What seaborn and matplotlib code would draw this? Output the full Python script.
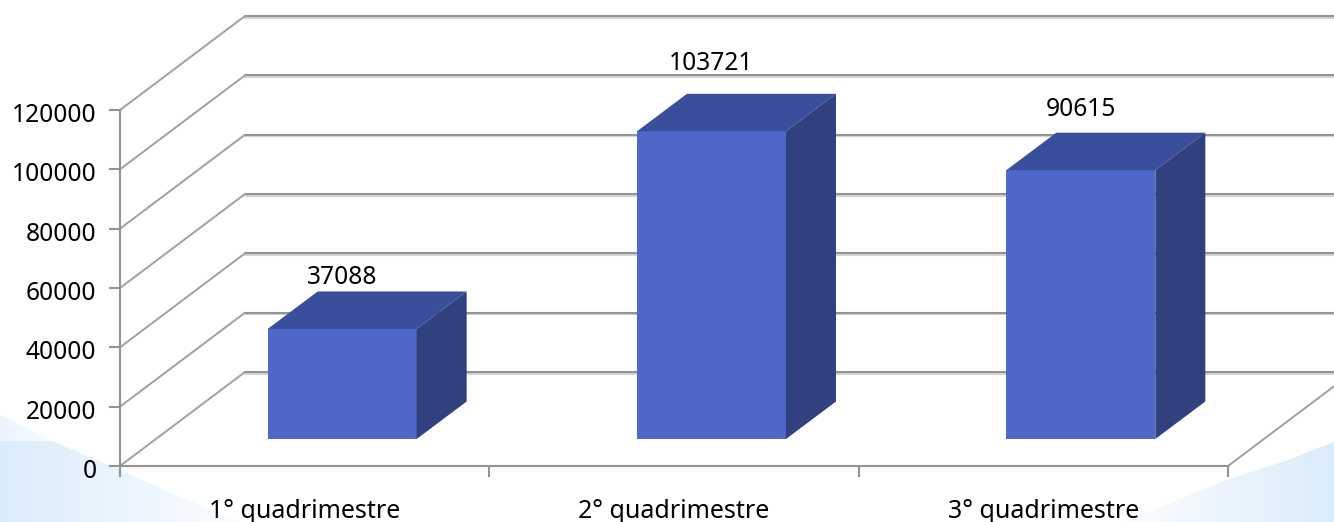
import numpy as np
import seaborn as sns
from matplotlib import pyplot as plt
from matplotlib import patheffects as pe
from matplotlib.colors import LinearSegmentedColormap
from matplotlib.patches import Polygon
from matplotlib.transforms import ScaledTranslation

categories = ["1° quadrimestre", "2° quadrimestre", "3° quadrimestre"]
values = [37088, 103721, 90615]
y_ticks = [0, 20000, 40000, 60000, 80000, 100000, 120000]

W, H = 1334, 522
FONT = 17.7
GRID = "#939393"
FRONT, TOP, SIDE = "#4f67c8", "#3a4f9b", "#31417f"

sns.set_theme(style="white")
plt.rcParams["font.family"] = ["Noto Sans", "DejaVu Sans"]

fig = plt.figure(figsize=(W / 100, H / 100), dpi=100, facecolor="white")


def px_axes(left, baseline):
    # axes placed by pixel position, y counted from the top of the picture
    return fig.add_axes([left / W, (H - baseline) / H, 1108 / W, 356 / H])


# background swooshes in the bottom corners
bg = fig.add_axes([0, 0, 1, 1], zorder=0)
bg.set_xlim(0, W)
bg.set_ylim(H, 0)
bg.axis("off")
fade = LinearSegmentedColormap.from_list("fade", ["#daecfb", "#fbfdff"])
ramp = np.linspace(0, 1, 256).reshape(1, -1)
shapes = [
    ([(0, 415), (25, 427), (52, 441), (0, 441)], (0, 60), 0.5),
    ([(0, 441), (52, 441), (120, 470), (180, 497), (240, 522), (0, 522)], (0, 240), 0),
    ([(1123, 522), (1227, 480), (1285, 461), (1334, 442), (1334, 522)], (1334, 1123), 0),
]
for pts, (x0, x1), lift in shapes:
    img = bg.imshow(ramp * (1 - lift) + lift, cmap=fade, vmin=0, vmax=1, aspect="auto",
                    extent=(x0, x1, H, 400), zorder=1)
    img.set_clip_path(Polygon(pts, transform=bg.transData))
bg.set_xlim(0, W)
bg.set_ylim(H, 0)

# front plane of the chart, carries the axes and the receding grid
ax = px_axes(120, 466)
ax.set_zorder(1)
ax.patch.set_alpha(0)
ax.set_xlim(-0.5, 2.5)
ax.set_ylim(0, 120000)
depth_x, depth_y = 125 / (1108 / 3), 94 / 356 * 120000
shadow = [pe.SimpleLineShadow(offset=(0, -1.3), shadow_color="#d4d4d4", alpha=1), pe.Normal()]
for tick in y_ticks:
    ax.plot([-0.5 + depth_x, 3.0], [tick + depth_y, tick + depth_y],
            color=GRID, lw=1.5, clip_on=False, path_effects=shadow)
    ax.plot([-0.5, -0.5 + depth_x], [tick, tick + depth_y], color="#a0a0a0", lw=1.4, clip_on=False)
ax.plot([2.5, 2.5 + depth_x], [0, depth_y], color="#a0a0a0", lw=1.4, clip_on=False)

ax.set_yticks(y_ticks)
ax.set_xticks([-0.5, 0.5, 1.5, 2.5])
ax.set_xticklabels([])
ax.set_xticks(range(3), categories, minor=True)
ax.tick_params(axis="both", which="major", length=8, width=1.5, color=GRID, direction="out",
               left=True, bottom=True, labelsize=FONT, labelcolor="black", pad=9)
ax.tick_params(axis="x", which="minor", length=0, labelsize=18, labelcolor="black", pad=24)
nudge = ScaledTranslation(0, -2.5 / 72 * 0.72, fig.dpi_scale_trans)
for label in ax.get_yticklabels():
    label.set_transform(label.get_transform() + nudge)
for side in ["top", "right"]:
    ax.spines[side].set_visible(False)
for side in ["left", "bottom"]:
    ax.spines[side].set_color(GRID)
    ax.spines[side].set_linewidth(1.5)

# bars stand 30% back into the depth of the floor
ax_bars = px_axes(157.5, 439)
ax_bars.set_zorder(2)
ax_bars.patch.set_alpha(0)
sns.barplot(x=categories, y=values, color=FRONT, saturation=1, width=149 / (1108 / 3),
            edgecolor=FRONT, linewidth=0, ax=ax_bars)
ax_bars.set_xlim(-0.5, 2.5)
ax_bars.set_ylim(0, 120000)
ax_bars.axis("off")

bar_x, bar_y = 50 / (1108 / 3), 37.5 / 356 * 120000
label_pads = [14, 30, 23]
for bar, val, pad in zip(ax_bars.patches, values, label_pads):
    x0, x1 = bar.get_x(), bar.get_x() + bar.get_width()
    top_face = [(x0, val), (x1, val), (x1 + bar_x, val + bar_y), (x0 + bar_x, val + bar_y)]
    side_face = [(x1, 0), (x1 + bar_x, bar_y), (x1 + bar_x, val + bar_y), (x1, val)]
    ax_bars.add_patch(Polygon(top_face, facecolor=TOP, edgecolor="none", clip_on=False))
    ax_bars.add_patch(Polygon(side_face, facecolor=SIDE, edgecolor="none", clip_on=False))
    ax_bars.annotate(str(val), ((x0 + x1) / 2, val + bar_y), xytext=(0, pad * 0.72),
                     textcoords="offset points", ha="center", va="center",
                     fontsize=FONT, color="black", annotation_clip=False)

fig.savefig("out.png", dpi=100)
